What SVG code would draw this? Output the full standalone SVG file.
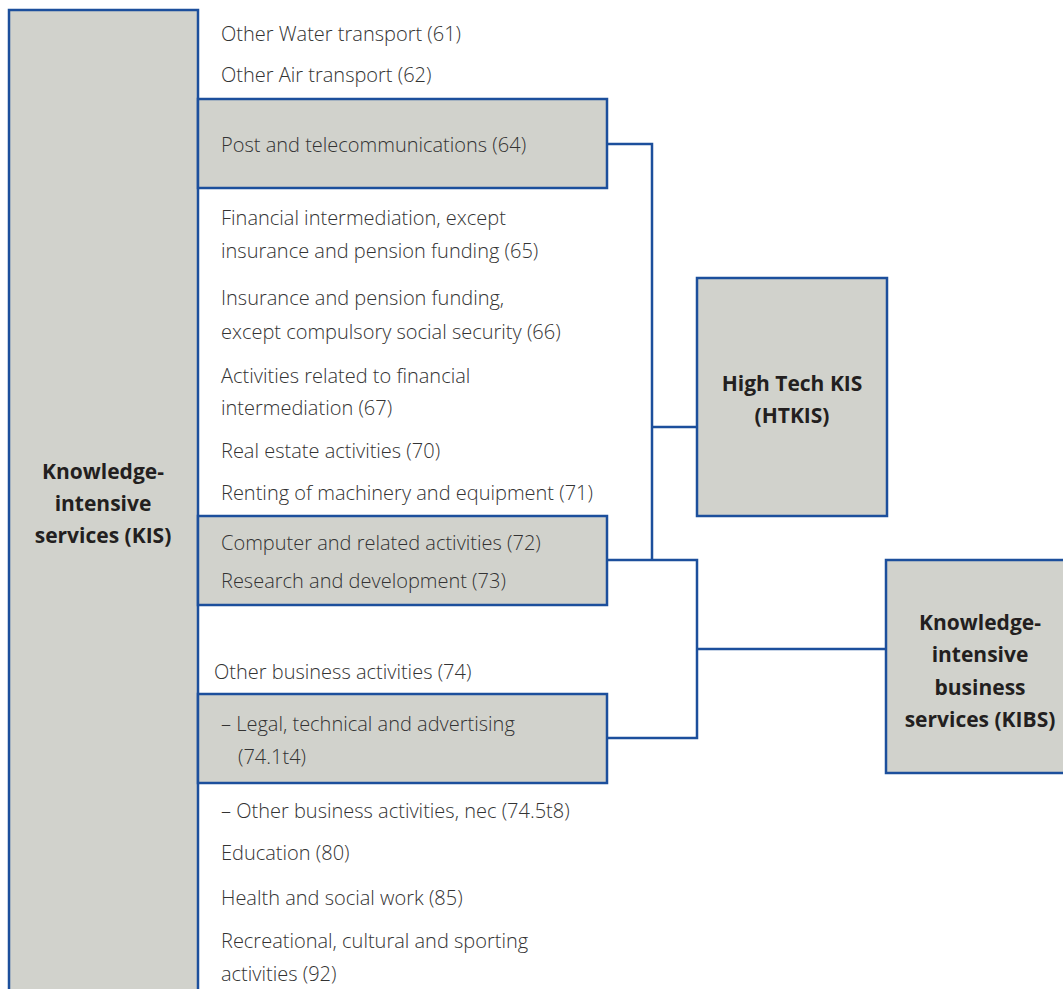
<svg xmlns="http://www.w3.org/2000/svg" width="1063" height="989" viewBox="0 0 1063 989">
<style>
.box{fill:#d1d2cc;stroke:#1c4f9c;stroke-width:2.5}
.ln{fill:none;stroke:#1c4f9c;stroke-width:2.5}
.t{font-family:"Open Sans","Liberation Sans",sans-serif;font-weight:300;font-size:20px;fill:#333333}
.b{font-family:"Open Sans","Liberation Sans",sans-serif;font-weight:700;font-size:21px;fill:#231f20;text-anchor:middle}
</style>
<rect width="1063" height="989" fill="#ffffff"/>
<g id="connectors">
<polyline class="ln" points="607,144 652,144 652,560"/>
<line class="ln" x1="652" y1="427" x2="697" y2="427"/>
<polyline class="ln" points="607,560 697,560 697,738 607,738"/>
<line class="ln" x1="697" y1="649" x2="886" y2="649"/>
</g>
<g id="kis">
<rect class="box" x="9" y="10" width="189" height="990"/>
<text class="b" x="103" y="479">Knowledge-</text>
<text class="b" x="103" y="511">intensive</text>
<text class="b" x="103" y="543">services (KIS)</text>
</g>
<g id="post">
<rect class="box" x="198" y="99" width="409" height="89"/>
<text class="t" x="221" y="152">Post and telecommunications (64)</text>
</g>
<g id="computer">
<rect class="box" x="198" y="516" width="409" height="89"/>
<text class="t" x="221" y="550">Computer and related activities (72)</text>
<text class="t" x="221" y="588">Research and development (73)</text>
</g>
<g id="legal">
<rect class="box" x="198" y="694" width="409" height="89"/>
<text class="t" x="221" y="731">– Legal, technical and advertising</text>
<text class="t" x="238" y="764">(74.1t4)</text>
</g>
<g id="htkis">
<rect class="box" x="697" y="278" width="190" height="238"/>
<text class="b" x="792" y="391">High Tech KIS</text>
<text class="b" x="792" y="423">(HTKIS)</text>
</g>
<g id="kibs">
<rect class="box" x="886" y="560" width="190" height="213"/>
<text class="b" x="980" y="630">Knowledge-</text>
<text class="b" x="980" y="662">intensive</text>
<text class="b" x="980" y="695">business</text>
<text class="b" x="980" y="727">services (KIBS)</text>
</g>
<g id="items">
<text class="t" x="221" y="41">Other Water transport (61)</text>
<text class="t" x="221" y="82">Other Air transport (62)</text>
<text class="t" x="221" y="225">Financial intermediation, except</text>
<text class="t" x="221" y="258">insurance and pension funding (65)</text>
<text class="t" x="221" y="305">Insurance and pension funding,</text>
<text class="t" x="221" y="339">except compulsory social security (66)</text>
<text class="t" x="221" y="383">Activities related to financial</text>
<text class="t" x="221" y="415">intermediation (67)</text>
<text class="t" x="221" y="458">Real estate activities (70)</text>
<text class="t" x="221" y="500">Renting of machinery and equipment (71)</text>
<text class="t" x="214" y="679">Other business activities (74)</text>
<text class="t" x="221" y="818">– Other business activities, nec (74.5t8)</text>
<text class="t" x="221" y="860">Education (80)</text>
<text class="t" x="221" y="905">Health and social work (85)</text>
<text class="t" x="221" y="948">Recreational, cultural and sporting</text>
<text class="t" x="221" y="981">activities (92)</text>
</g>
</svg>
